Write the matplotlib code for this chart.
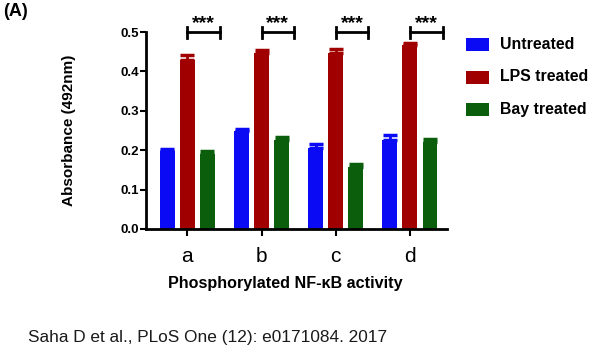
import numpy as np
import matplotlib.pyplot as plt
from matplotlib.patches import Rectangle

groups = ['a', 'b', 'c', 'd']
series = ['Untreated', 'LPS treated', 'Bay treated']
untreated = [0.197, 0.248, 0.206, 0.227]
untreated_err = [0.007, 0.007, 0.009, 0.011]
lps = [0.430, 0.446, 0.447, 0.466]
lps_err = [0.012, 0.008, 0.009, 0.007]
bay = [0.190, 0.227, 0.157, 0.221]
bay_err = [0.008, 0.006, 0.009, 0.008]
colors = ['#0A0AF5', '#A00000', '#0B5E0B']

plt.rcParams['font.family'] = ['Liberation Sans', 'DejaVu Sans']

fig = plt.figure(figsize=(6, 3.64), dpi=100)
ax = fig.add_axes([0.243, 0.371, 0.502, 0.541])

x = np.arange(len(groups))
w = 0.2
step = 0.27
vals = [untreated, lps, bay]
errs = [untreated_err, lps_err, bay_err]
for i in range(3):
    ax.bar(x + (i - 1) * step, vals[i], w, color=colors[i], label=series[i],
           yerr=[np.zeros(4), errs[i]], ecolor=colors[i],
           error_kw=dict(elinewidth=2, capsize=5, capthick=2.5))

# significance brackets
for xi in x:
    x0, x1, yb = xi, xi + 0.44, 0.499
    ax.plot([x0, x1], [yb, yb], color='black', lw=2, clip_on=False)
    ax.plot([x0, x0], [yb - 0.014, yb + 0.014], color='black', lw=2, clip_on=False)
    ax.plot([x1, x1], [yb - 0.014, yb + 0.014], color='black', lw=2, clip_on=False)
    ax.text((x0 + x1) / 2, yb + 0.002, '***', ha='center', va='bottom',
            fontsize=14, fontweight='bold', clip_on=False)

ax.set_xlim(-0.56, 3.5)
ax.set_ylim(0, 0.5)
ax.set_yticks([0, 0.1, 0.2, 0.3, 0.4, 0.5])
ax.set_yticklabels(['0.0', '0.1', '0.2', '0.3', '0.4', '0.5'], fontweight='bold', fontsize=9.5)
ax.set_xticks(x)
ax.set_xticklabels(groups, fontsize=15)
ax.spines['top'].set_visible(False)
ax.spines['right'].set_visible(False)
ax.spines['left'].set_linewidth(2)
ax.spines['bottom'].set_linewidth(2)
ax.tick_params(width=1.5, length=4, pad=1)
ax.tick_params(axis='x', length=5, pad=8)
ax.set_ylabel('Absorbance (492nm)', fontweight='bold', fontsize=11)
ax.yaxis.set_label_coords(-0.232, 0.5)
ax.set_xlabel('Phosphorylated NF-κB activity', fontweight='bold', fontsize=11.6)
ax.xaxis.set_label_coords(0.464, -0.24)

# legend drawn as boxes + labels at the right
for i, name in enumerate(series):
    yb = 1 - (51 + i * 32.5) / 364
    fig.add_artist(Rectangle((466 / 600, yb), 23 / 600, 13 / 364, transform=fig.transFigure,
                             facecolor=colors[i], edgecolor='none'))
    fig.text(500 / 600, yb + 6.5 / 364, name, fontsize=11.4, fontweight='bold',
             va='center')

fig.text(0.005, 0.968, '(A)', fontweight='bold', fontsize=13, va='center')
fig.text(28 / 600, 0.072, 'Saha D et al., PLoS One (12): e0171084. 2017',
         fontsize=12.4, color='#1a1a1a', va='center')

plt.savefig('out.png', dpi=100)
